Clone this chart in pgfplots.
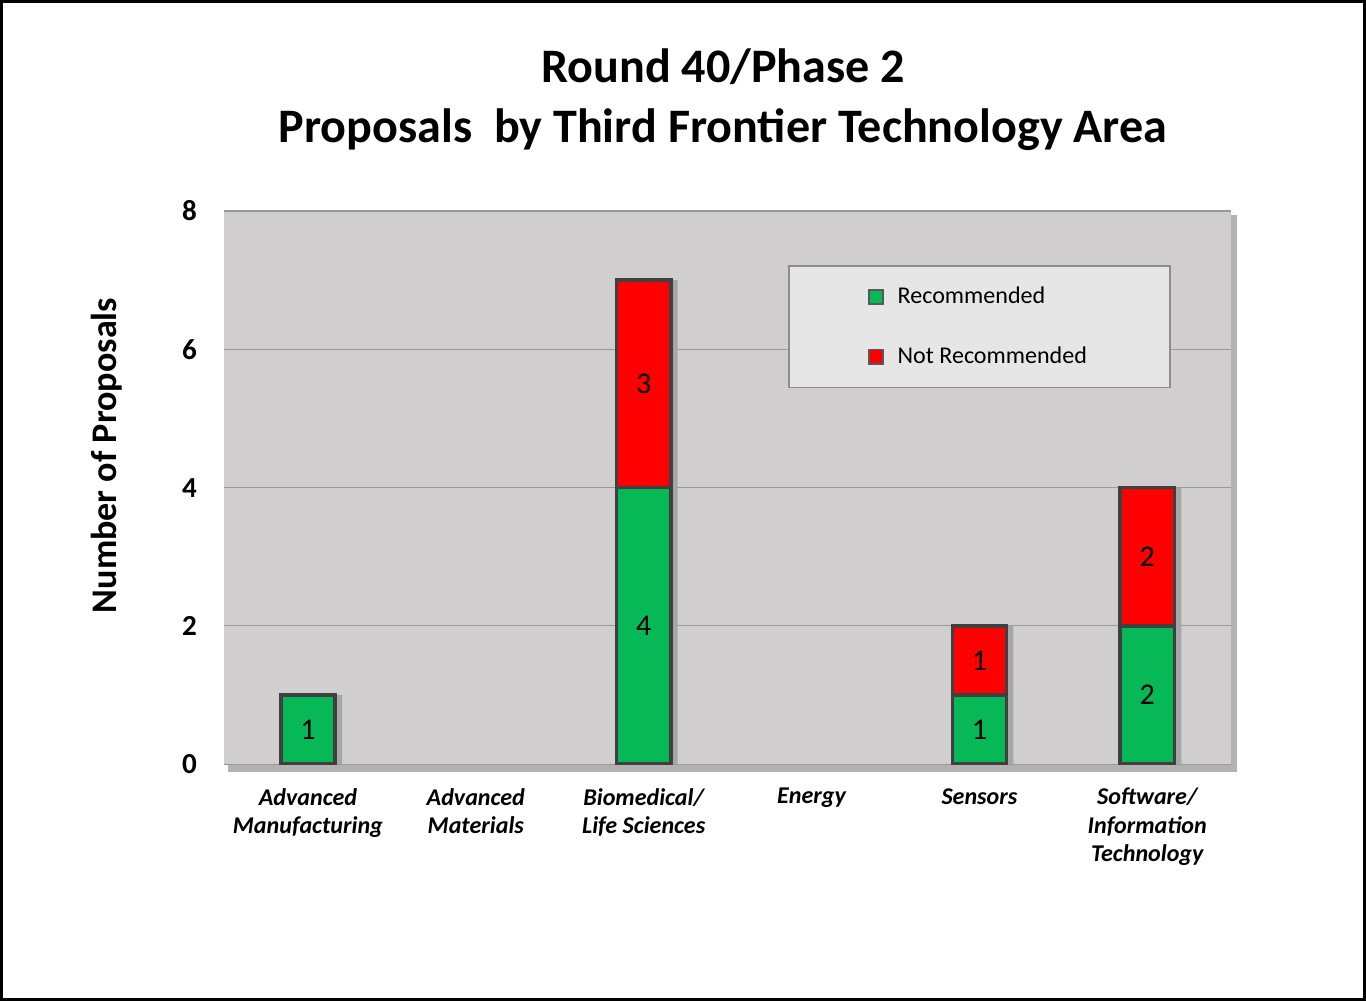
\documentclass[border=0pt]{standalone}
\usepackage{fontspec}
\setmainfont{Carlito}
\usepackage{pgfplots}
\pgfplotsset{compat=1.18}
\definecolor{recgreen}{RGB}{6,185,86}
\definecolor{nrred}{RGB}{255,0,0}
\definecolor{plotbg}{RGB}{208,206,207}
\definecolor{legbg}{RGB}{230,230,230}
\begin{document}
\begin{tikzpicture}
\fill[black!30] (2pt,-4pt) rectangle (505.5pt,274pt);
\begin{axis}[
  scale only axis, width=502.5pt, height=276pt,
  xmin=-0.5, xmax=5.5, ymin=0, ymax=8,
  xtick={0,...,5},
  xticklabels={{Advanced\\Manufacturing},{Advanced\\Materials},{Biomedical/\\Life Sciences},{Energy},{Sensors},{Software/\\Information\\Technology}},
  xticklabel style={align=center, font=\fontsize{12}{14}\selectfont\bfseries\itshape, anchor=north, yshift=-8.5pt},
  ytick={0,2,4,6,8},
  yticklabel style={font=\fontsize{14.5}{16}\selectfont\bfseries, xshift=-10pt},
  /pgf/number format/assume math mode=true,
  major tick length=0pt,
  ymajorgrids, grid style={draw=black!40, line width=0.6pt},
  axis background/.style={fill=plotbg},
  axis line style={draw=none},
  ylabel={Number of Proposals},
  ylabel style={font=\fontsize{18}{20}\selectfont\bfseries, at={(axis description cs:-0.1164,0.558)}, anchor=center},
  title={Round 40/Phase 2\\Proposals\ \ by Third Frontier Technology Area},
  title style={font=\fontsize{24}{30}\selectfont\bfseries, align=center, at={(axis description cs:0.4955,1)}, anchor=south, yshift=20.5pt},
  reverse legend,
  legend style={at={(0.560,0.902)}, anchor=north west, fill=legbg, draw=black!45, line width=0.8pt, inner xsep=39.5pt, inner ysep=8.5pt, row sep=16pt, font=\fontsize{12}{14}\selectfont, cells={anchor=west}},
  legend image code/.code={\draw[#1, draw=black!65, line width=0.8pt] (0pt,-3.5pt) rectangle (7pt,3.5pt); \path (11.5pt,0pt);},
]
\addplot[ybar, bar width=31pt, bar shift=1.5pt, fill=black!35, draw=none, forget plot] coordinates {(0,1) (2,7) (4,2) (5,4)};
\addplot[ybar, bar width=27pt, bar shift=0pt, fill=nrred, draw=black!75, line width=1.8pt] coordinates {(2,7) (4,2) (5,4)};
\addplot[ybar, bar width=27pt, bar shift=0pt, fill=recgreen, draw=black!75, line width=1.8pt] coordinates {(0,1) (2,4) (4,1) (5,2)};
\addplot[only marks, mark=none, forget plot, nodes near coords, point meta=explicit symbolic, every node near coord/.style={anchor=center, font=\fontsize{15}{17}\selectfont}] coordinates {(0,0.5)[1] (2,2)[4] (2,5.5)[3] (4,0.5)[1] (4,1.5)[1] (5,1)[2] (5,3)[2]};
\legend{Not Recommended, Recommended}
\end{axis}
\draw[line width=1.5pt] (-111pt,-117.5pt) rectangle (569pt,380.5pt);
\end{tikzpicture}
\end{document}
